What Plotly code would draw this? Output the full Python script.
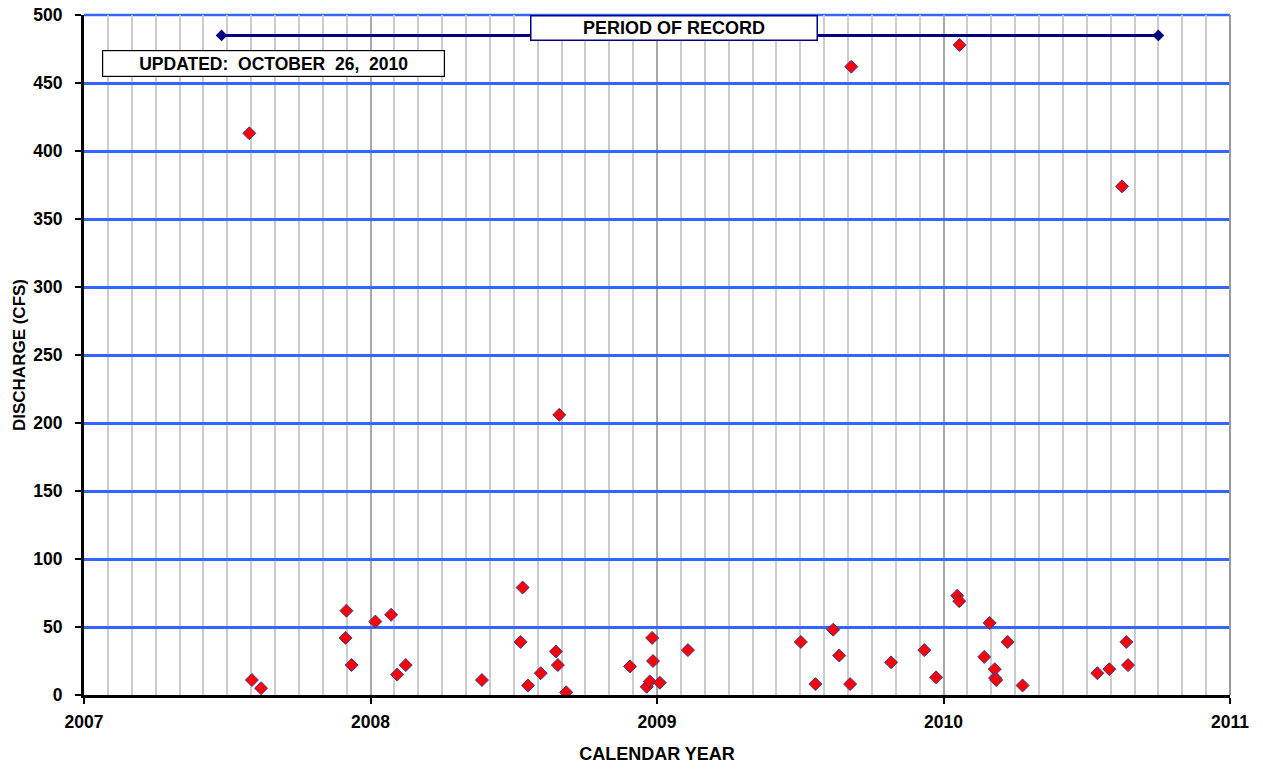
import plotly.graph_objects as go

# Sample dates as decimal calendar years, discharge in CFS
sample_year = [
    2007.577, 2007.586, 2007.618, 2007.916, 2007.913, 2007.934, 2008.017, 2008.072,
    2008.093, 2008.123, 2008.389, 2008.531, 2008.524, 2008.550, 2008.594, 2008.647,
    2008.654, 2008.659, 2008.683, 2008.906, 2008.964, 2008.975, 2008.983, 2008.986,
    2009.010, 2009.108, 2009.502, 2009.553, 2009.615, 2009.636, 2009.674, 2009.678,
    2009.817, 2009.933, 2009.974, 2010.048, 2010.055, 2010.056, 2010.161, 2010.142,
    2010.179, 2010.180, 2010.184, 2010.224, 2010.276, 2010.537, 2010.579, 2010.638,
    2010.644, 2010.623,
]
discharge_cfs = [
    413, 11, 5, 62, 42, 22, 54, 59,
    15, 22, 11, 79, 39, 7, 16, 32,
    22, 206, 2, 21, 6, 10, 42, 25,
    9, 33, 39, 8, 48, 29, 8, 462,
    24, 33, 13, 73, 69, 478, 53, 28,
    19, 12.5, 11, 39, 7, 16, 19, 39,
    22, 374,
]

period_year = [2007.48, 2010.75]
period_level = [485, 485]

year_ticks = [2007, 2008, 2009, 2010, 2011]
year_labels = ["2007", "2008", "2009", "2010", "2011"]
y_ticks = list(range(0, 501, 50))

FONT = "Liberation Sans, Arial, sans-serif"

fig = go.Figure()

fig.add_trace(go.Scatter(
    x=period_year, y=period_level, mode="lines+markers",
    line=dict(color="#000080", width=3),
    marker=dict(symbol="diamond", size=9, color="#000080"),
    showlegend=False, hoverinfo="skip",
))

fig.add_trace(go.Scatter(
    x=sample_year, y=discharge_cfs, mode="markers",
    marker=dict(symbol="diamond", size=10, color="#ff0000",
                line=dict(color="#3a3a9a", width=1)),
    showlegend=False,
))

fig.update_layout(
    template="none",
    width=1263, height=769,
    margin=dict(l=84, r=33, t=15, b=74, autoexpand=False),
    paper_bgcolor="white", plot_bgcolor="white",
    font=dict(family=FONT, color="black", size=17),
    xaxis=dict(
        automargin=False,
        range=[2007, 2011], tickmode="array", tickvals=year_ticks, ticktext=year_labels,
        showgrid=True, gridcolor="#a8a8a8", gridwidth=2,
        minor=dict(tick0=2007, dtick=1/12, showgrid=True, gridcolor="#cccccc", gridwidth=1.5, ticks=""),
        showline=True, linecolor="black", linewidth=3,
        ticks="outside", ticklen=6, tickwidth=2, tickcolor="black",
        tickfont=dict(size=17.5, weight="bold"), ticklabelstandoff=3,
        ticklabeloverflow="allow",
        title=dict(text="CALENDAR YEAR", font=dict(size=18, weight="bold"), standoff=17),
        zeroline=False,
    ),
    yaxis=dict(
        automargin=False,
        range=[0, 500], tickmode="array", tickvals=y_ticks,
        showgrid=True, gridcolor="#3366ff", gridwidth=2.5,
        showline=True, linecolor="black", linewidth=3,
        ticks="outside", ticklen=6, tickwidth=2, tickcolor="black",
        tickfont=dict(size=17.5, weight="bold"), ticklabelstandoff=9,
        ticklabeloverflow="allow",
        title=dict(text="DISCHARGE (CFS)", font=dict(size=17, weight="bold"), standoff=4),
        zeroline=False,
    ),
)

# top gridline and right border of the plot frame
fig.add_shape(type="line", xref="paper", yref="paper", x0=0, x1=1, y0=1, y1=1,
              line=dict(color="#3366ff", width=2.5), layer="below")
fig.add_shape(type="line", xref="paper", yref="paper", x0=1, x1=1, y0=0, y1=1,
              line=dict(color="#999999", width=2))

fig.add_annotation(
    x=2009.059, y=490.4, xref="x", yref="y", xanchor="center", yanchor="middle",
    text="<b>PERIOD OF RECORD</b>", showarrow=False,
    font=dict(size=18, family=FONT), bgcolor="white",
    bordercolor="#000080", borderwidth=1.5, width=283, height=21, borderpad=1,
)
fig.add_annotation(
    x=2007.663, y=464.7, xref="x", yref="y", xanchor="center", yanchor="middle",
    text="<b>UPDATED:  OCTOBER  26,  2010</b>", showarrow=False,
    font=dict(size=17.5, family=FONT), bgcolor="white",
    bordercolor="black", borderwidth=1.2, width=339, height=23, borderpad=1,
)

fig.write_html(
    "out.html",
    config={"displayModeBar": False},
    post_script="document.body.style.margin='0';document.body.style.overflow='hidden';",
)
